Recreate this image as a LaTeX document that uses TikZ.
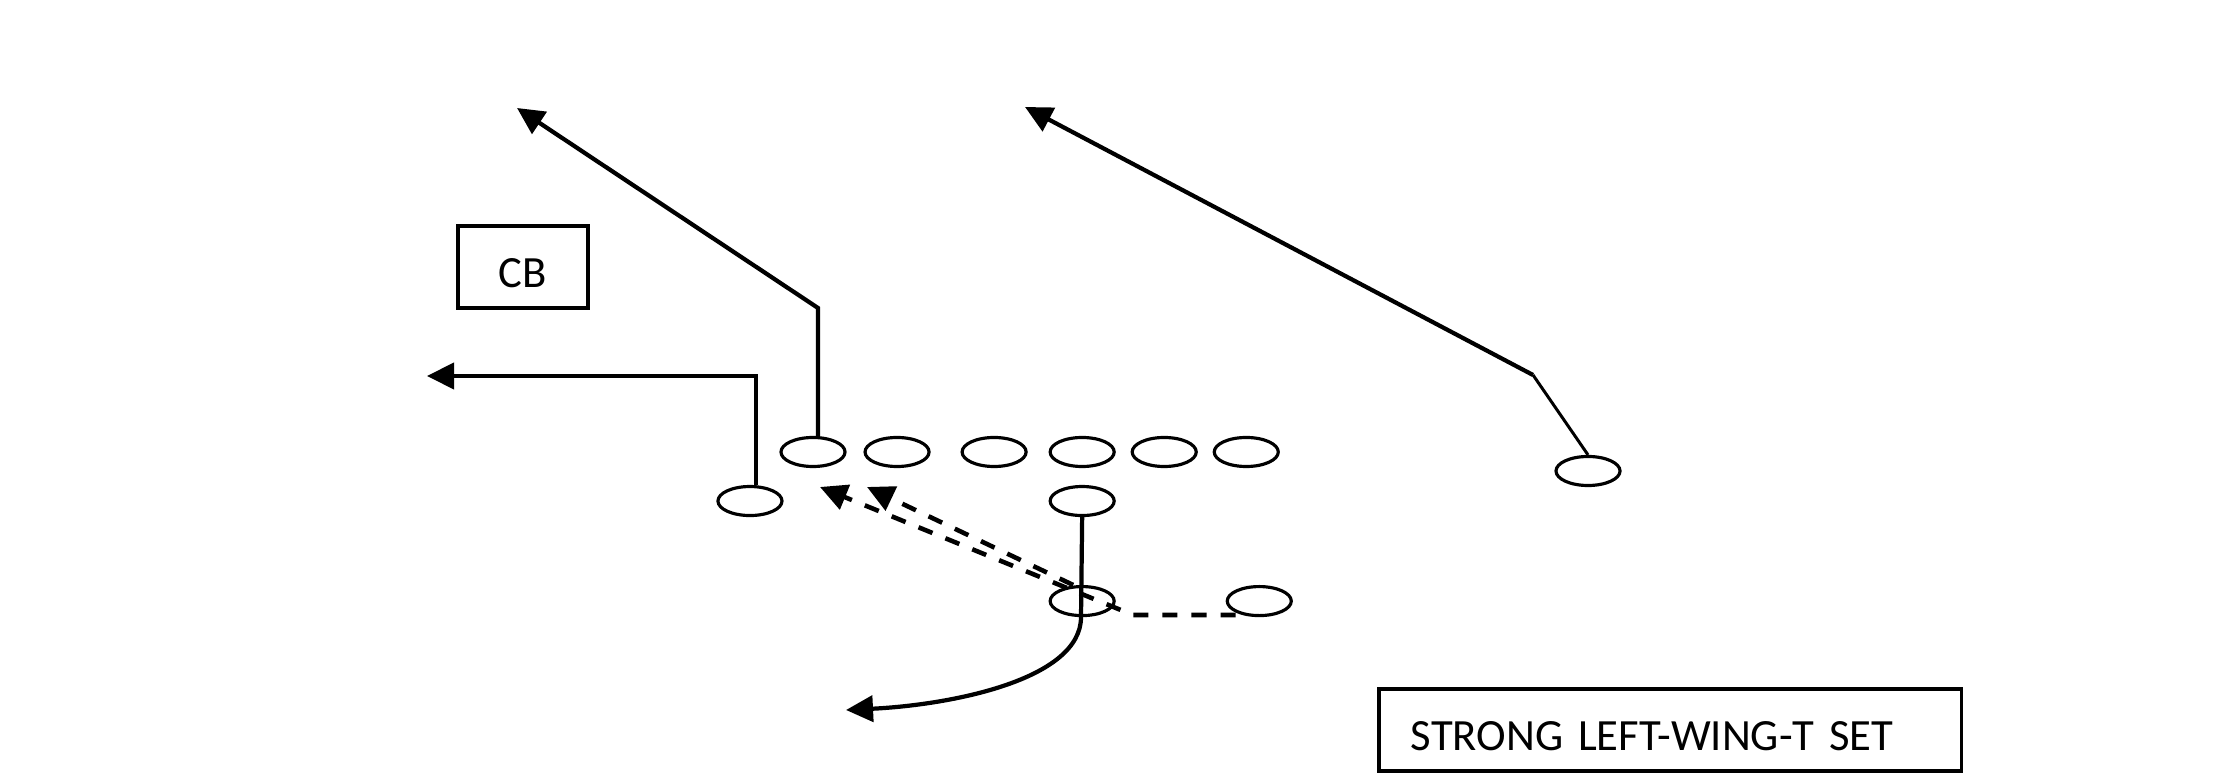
\documentclass[tikz,border=0pt]{standalone}
\usepackage{fontspec}
\setmainfont{Carlito}
\usepackage{tikz}
\usetikzlibrary{shapes.geometric, arrows.meta}
\tikzstyle{player} = [ellipse, 
minimum width=0.64cm, 
minimum height=0.29cm, 
inner sep=0pt, 
draw=black, 
line width=0.9pt]
\tikzstyle{tag} = [rectangle, 
minimum height=0.82cm, 
text height=0.45cm, 
text depth=0.04cm, 
draw=black, 
line width=0.95pt, 
font=\fontsize{12.7pt}{15pt}\selectfont]
\tikzstyle{arrow} = [line width=1.2pt, -{Triangle[length=0.27cm, width=0.26cm]}]
\tikzstyle{dasharrow} = [arrow, line width=1.3pt, dash pattern=on 0.15cm off 0.14cm]
\tikzstyle{line} = [line width=0.85pt]

\begin{document}
\begin{tikzpicture} [x=0.01cm, y=-0.01cm, node distance=0.84cm]
    \useasboundingbox (0,0) rectangle (2213,783);

    % line
    \node (te) [player] at (813,452) {};
    \node (lt) [player, right of=te] {};
    \node (lg) [player, right of=lt, xshift=0.13cm] {};
    \node (c) [player, right of=lg, xshift=0.04cm] {};
    \node (rg) [player, right of=c, xshift=-0.02cm] {};
    \node (rt) [player, right of=rg, xshift=-0.02cm] {};
    % backs
    \node (qb) [player, below of=c, yshift=0.35cm] {};
    \node (fb) [player, below of=qb, yshift=-0.16cm] {};
    \node (hb) [player, right of=fb, xshift=0.93cm] {};
    \node (wb) [player, left of=te, xshift=0.21cm, yshift=-0.49cm] {};
    \node (se) [player] at (1588,471) {};

    \node (cb) [tag, minimum width=1.3cm] at (523,267) {CB};
    \node (title) [tag, text width=5.18cm, inner xsep=0.32cm, align=left] at (1670,730) {STRONG LEFT-WING-T SET};

    \coordinate (te1) at (818,308);
    \coordinate (te2) at (517,108);
    \coordinate (wb1) at (756,376);
    \coordinate (wb2) at (427,376);
    \coordinate (se1) at (1533,375);
    \coordinate (se2) at (1025,107);
    \coordinate (qb1) at (1081,617);
    \coordinate (qb2) at (846,710);
    \coordinate (fb1) at (867,487);
    \coordinate (hb1) at (1133,615);
    \coordinate (hb2) at (820,487);

    \draw [arrow] (te.north -| te1) -- (te1) -- (te2);
    \draw [arrow] (wb.north -| wb1) -- (wb1) -- (wb2);
    \draw [line] (se.north) -- (se1);
    \draw [arrow] (se1) -- (se2);
    \draw [arrow] (qb.south) -- (qb1) .. controls (1081,680) and (950,705) .. (qb2);
    \draw [dasharrow] ([xshift=-0.09cm]fb.north) -- (fb1);
    \draw [dasharrow] (hb.south west |- hb1) -- (hb1) -- (hb2);

\end{tikzpicture}
\end{document}
